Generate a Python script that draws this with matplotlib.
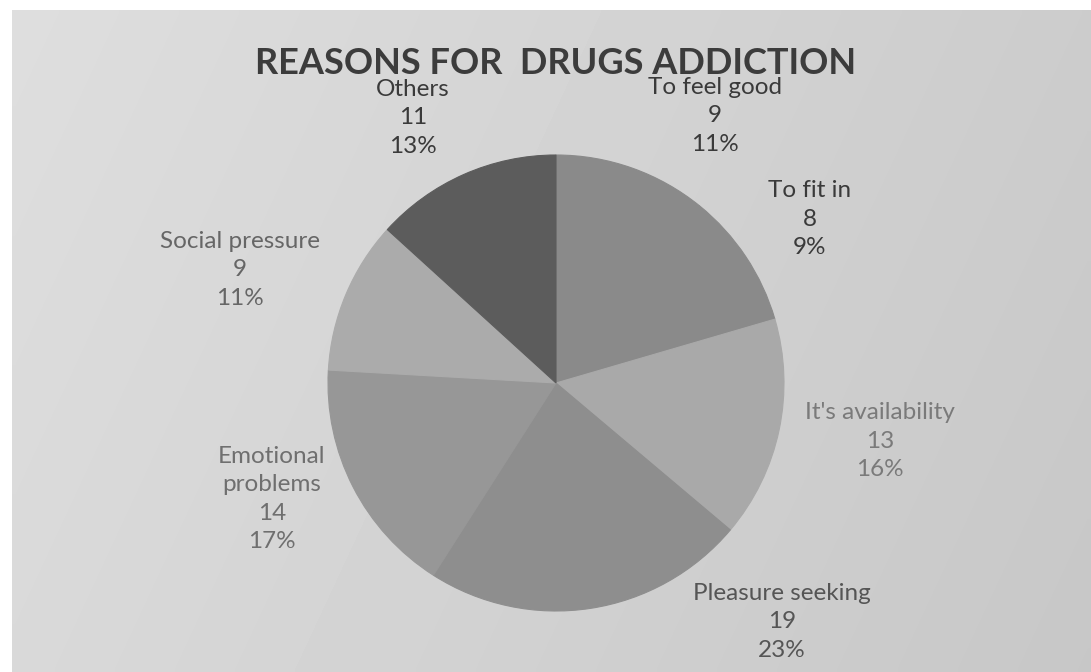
import matplotlib
matplotlib.use("Agg")
import matplotlib.pyplot as plt
import numpy as np

categories = ["To feel good", "To fit in", "It's availability", "Pleasure seeking",
              "Emotional\nproblems", "Social pressure", "Others"]
values = [9, 8, 13, 19, 14, 9, 11]
pct_labels = ["11%", "9%", "16%", "23%", "17%", "11%", "13%"]
title = "REASONS FOR  DRUGS ADDICTION"

slice_colors = ["#8a8a8a", "#8a8a8a", "#a9a9a9", "#8e8e8e", "#979797", "#ababab", "#5c5c5c"]
label_colors = ["#3a3a3a", "#3a3a3a", "#7a7a7a", "#555555", "#6f6f6f", "#666666", "#3a3a3a"]
# label anchor positions in pixel space (x, y from top)
label_pos = [(715, 116), (810, 219), (880, 441), (782, 622), (272, 499), (240, 270), (413, 118)]

W, H = 1091, 672
fig = plt.figure(figsize=(W / 100, H / 100), dpi=100, facecolor="white")
ax = fig.add_axes([0, 0, 1, 1])

# scanned gray background with a mild gradient
yy, xx = np.mgrid[0:100, 0:160]
bg = 0.87 - 0.07 * (xx / 160) - 0.02 * (yy / 100)
ax.imshow(bg, cmap="gray", vmin=0, vmax=1, extent=(12, W, 0, H - 10),
          aspect="auto", zorder=0, interpolation="bilinear")

cx, cy, r = 556, H - 383, 228
wedges, _ = ax.pie(values, colors=slice_colors, startangle=90, counterclock=False,
                   center=(cx, cy), radius=r, frame=True,
                   wedgeprops=dict(linewidth=0.8))
for w in wedges:
    w.set_zorder(2)
    w.set_edgecolor(w.get_facecolor())
ax.set_xlim(0, W)
ax.set_ylim(0, H)
ax.set_aspect("equal")
ax.axis("off")

for cat, v, p, (lx, ly), col in zip(categories, values, pct_labels, label_pos, label_colors):
    ax.text(lx, H - ly, f"{cat}\n{v}\n{p}", ha="center", va="center",
            fontsize=17.5, family="Lato", color=col, linespacing=1.45, zorder=3)

ax.text(556, H - 64, title, ha="center", va="center", fontsize=26,
        family="Lato", fontweight="bold", color="#3c3c3c", zorder=4)

fig.savefig("out.png", dpi=100, facecolor="white")
